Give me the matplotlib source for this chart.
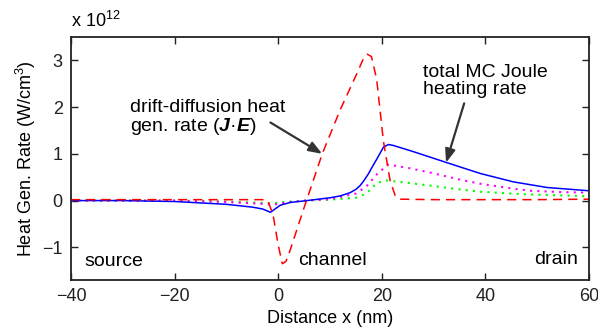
import matplotlib
matplotlib.use("Agg")
import matplotlib.pyplot as plt

plt.rcParams["font.family"] = ["Liberation Sans", "DejaVu Sans"]
plt.rcParams["mathtext.fontset"] = "custom"
plt.rcParams["mathtext.rm"] = "Liberation Sans"
plt.rcParams["mathtext.it"] = "Liberation Sans:italic"
plt.rcParams["mathtext.bf"] = "Liberation Sans:bold"
plt.rcParams["mathtext.bfit"] = "Liberation Sans:bold:italic"

# ── Data (units of 1e12 W/cm^3) ───────────────────────────────────────────────
dd_x = [-40, -30, -20, -10, -5, -3, -2, -1, 0, 0.8, 1.5, 2.1, 5, 8.5, 12, 15.2,
        16.5, 17.2, 18, 19, 20.3, 21.6, 22.6, 23.5, 30, 40, 50, 60]
dd_y = [0.02, 0.02, 0.02, 0.02, 0.02, 0.02, 0.0, -0.3, -0.95, -1.35, -1.3, -1.13,
        -0.15, 1.0, 1.95, 2.72, 3.05, 3.13, 3.08, 2.6, 1.28, 0.43, 0.1, 0.03,
        0.02, 0.02, 0.02, 0.03]

mc_x = [-40, -30, -20, -10, -5, -3, -1.5, 0.4, 2.3, 5.6, 10, 12, 13.9, 15, 15.8,
        16.5, 17.4, 18.2, 19.1, 20.3, 21.3, 22.2, 26, 32.6, 39, 45.4, 51.9, 60]
mc_y = [0.0, 0.0, -0.02, -0.08, -0.14, -0.18, -0.25, -0.1, -0.04, 0.0, 0.06,
        0.1, 0.17, 0.24, 0.32, 0.42, 0.57, 0.73, 0.9, 1.14, 1.2, 1.18, 1.05,
        0.81, 0.58, 0.4, 0.28, 0.21]

mag_x = [-40, -20, -10, -3, -1, 1, 5, 10, 15, 17, 19.1, 21.2, 25, 29.3, 35, 39,
         45, 48.6, 55, 60]
mag_y = [0.0, 0.0, -0.03, -0.07, -0.09, -0.05, 0.0, 0.03, 0.15, 0.3, 0.57, 0.77,
         0.7, 0.6, 0.45, 0.36, 0.26, 0.21, 0.18, 0.17]

grn_x = [-40, -20, -10, -3, -1, 1, 5, 10, 15, 17, 19.1, 21, 25, 29.3, 35, 39,
         45, 48.6, 55, 60]
grn_y = [0.0, 0.0, -0.02, -0.05, -0.06, -0.03, 0.0, 0.02, 0.06, 0.15, 0.38,
         0.43, 0.38, 0.32, 0.24, 0.19, 0.15, 0.13, 0.11, 0.09]

x_ticks = [-40, -20, 0, 20, 40, 60]
y_ticks = [-1, 0, 1, 2, 3]

# ── Plot ──────────────────────────────────────────────────────────────────────
fig = plt.figure(figsize=(5.98, 3.33), dpi=100)
ax = fig.add_axes([0.1187, 0.159, 0.8663, 0.73])

ax.plot(grn_x, grn_y, color="#00ff00", linestyle=(0, (1, 2.5)), linewidth=1.5)
ax.plot(mag_x, mag_y, color="#ff00ff", linestyle=(0, (1, 2.5)), linewidth=1.5)
ax.plot(mc_x, mc_y, color="#0000ff", linewidth=1.1)
ax.plot(dd_x, dd_y, color="#ff0000", linestyle=(0, (6, 4)), linewidth=1.1)

ax.set_xlim(-40, 60)
ax.set_ylim(-1.7, 3.5)
ax.set_xticks(x_ticks)
ax.set_yticks(y_ticks)
ax.set_xticklabels([str(t).replace("-", "\u2212") for t in x_ticks])
ax.set_yticklabels([str(t).replace("-", "\u2212") for t in y_ticks])
ax.tick_params(direction="in", top=True, right=True, length=5, width=1,
               labelsize=13, colors="#222222", pad=6)
for s in ax.spines.values():
    s.set_linewidth(1.3)
    s.set_color("#222222")

ax.set_xlabel("Distance x (nm)", fontsize=13, labelpad=3)
ax.set_ylabel("Heat Gen. Rate (W/cm$^3$)", fontsize=13, labelpad=3)
fig.text(0.1187, 0.919, r"x 10$^{12}$", fontsize=13, va="baseline", ha="left")

# multi-line text: baseline refers to the last line
arrow = dict(arrowstyle="-|>,head_length=0.8,head_width=0.3",
             color="#333333", lw=1.6, shrinkA=0, shrinkB=0)
ax.text(-28.6, 1.48, "drift-diffusion heat\ngen. rate ($\\mathbfit{J}$\u00b7$\\mathbfit{E}$)",
        fontsize=14, ha="left", va="baseline", linespacing=1.0)
ax.annotate("", xy=(8.5, 1.0), xytext=(-1.5, 1.67), arrowprops=arrow)
ax.text(28.0, 2.29, "total MC Joule\nheating rate", fontsize=14, ha="left",
        va="baseline", linespacing=1.0)
ax.annotate("", xy=(32.4, 0.81), xytext=(35.9, 2.08), arrowprops=arrow)

ax.text(-37.5, -1.41, "source", fontsize=14, ha="left", va="baseline")
ax.text(3.9, -1.38, "channel", fontsize=14, ha="left", va="baseline")
ax.text(57.9, -1.36, "drain", fontsize=14, ha="right", va="baseline")

fig.savefig("out.png", dpi=100)
